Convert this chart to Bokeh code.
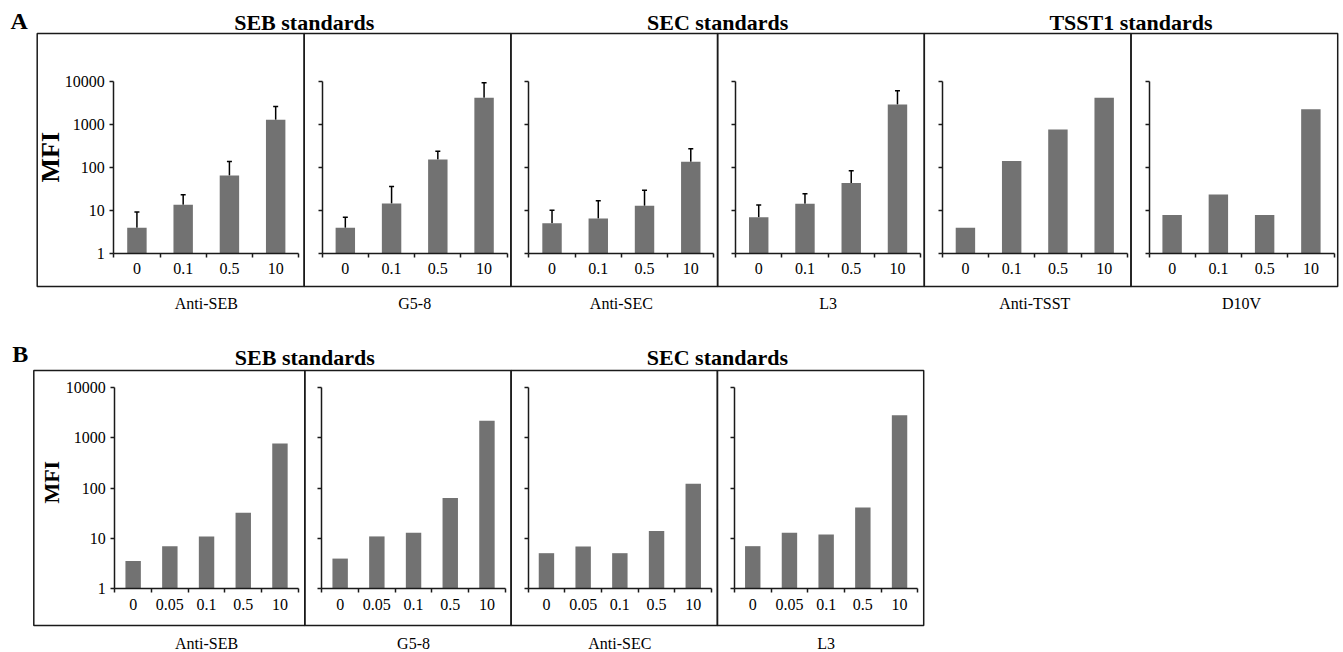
import math
from bokeh.plotting import figure
from bokeh.models import (Range1d, LogAxis, LinearAxis, FixedTicker, BoxAnnotation, Label,
                          Whisker, TeeHead, ColumnDataSource)
from bokeh.layouts import column
from bokeh.embed import file_html
from bokeh.resources import INLINE

# ---------------- data ----------------
A_doses = ["0", "0.1", "0.5", "10"]
B_doses = ["0", "0.05", "0.1", "0.5", "10"]
A_titles = ["SEB standards", "SEC standards", "TSST1 standards"]
B_titles = ["SEB standards", "SEC standards"]
A_panels = ["Anti-SEB", "G5-8", "Anti-SEC", "L3", "Anti-TSST", "D10V"]
B_panels = ["Anti-SEB", "G5-8", "Anti-SEC", "L3"]
y_ticks = [1, 10, 100, 1000, 10000]

A_anti_seb = [4.0, 13.7, 66, 1290]
A_anti_seb_up = [9.3, 23.4, 139, 2630]
A_g58 = [4.0, 14.7, 155, 4180]
A_g58_up = [7.1, 36.5, 241, 9300]
A_anti_sec = [5.1, 6.6, 13.0, 137]
A_anti_sec_up = [10.3, 17.0, 30.0, 273]
A_l3 = [7.1, 14.5, 44, 2930]
A_l3_up = [13.5, 24.7, 85, 6070]
A_anti_tsst = [4.0, 142, 770, 4180]
A_d10v = [8.0, 23.8, 8.0, 2280]

B_anti_seb = [3.5, 6.9, 10.8, 32, 770]
B_g58 = [3.9, 10.8, 12.8, 63, 2210]
B_anti_sec = [5.0, 6.8, 5.0, 13.8, 122]
B_l3 = [6.9, 12.8, 11.8, 41, 2820]

A_values = [A_anti_seb, A_g58, A_anti_sec, A_l3, A_anti_tsst, A_d10v]
A_upper = [A_anti_seb_up, A_g58_up, A_anti_sec_up, A_l3_up, None, None]
B_values = [B_anti_seb, B_g58, B_anti_sec, B_l3]
B_upper = [None, None, None, None]

# ---------------- style ----------------
SERIF = "Liberation Serif"
INK = "#1a1a1a"
BAR = "#727272"
W = 1343


def build_row(g, doses, panels, values, uppers, titles, letter):
    cat, top, h, y1, dec = g["cat"], g["top"], g["h"], g["y1"], g["dec"]

    def yval(page_y):  # data value shown at a page row
        return 10 ** ((y1 - page_y) / dec)

    def sy(page_y):  # screen offset from canvas bottom
        return top + h - page_y

    p = figure(width=W, height=h,
               x_range=Range1d(0, W / cat),
               y_range=Range1d(yval(top + h), yval(top)),
               y_axis_type="log", x_axis_location=None, y_axis_location=None,
               toolbar_location=None, output_backend="svg",
               min_border_left=0, min_border_right=0, min_border_top=0, min_border_bottom=0)
    p.outline_line_color = None
    p.background_fill_color = "white"
    p.border_fill_color = "white"
    p.grid.grid_line_color = None

    n = len(doses)
    npan = len(panels)
    dividers = [g["div0"] + k * g["pitch"] for k in range(npan - 1)]
    edges = [g["box_l"]] + dividers + [g["div0"] + (npan - 1) * g["pitch"]]
    starts = [g["ax0"]] + [d + g["gap"] for d in dividers]

    for k in range(npan):
        p.add_layout(BoxAnnotation(left=edges[k] / cat, right=edges[k + 1] / cat,
                                   top=yval(g["box_t"]), bottom=yval(g["box_b"]),
                                   fill_color=None, fill_alpha=0,
                                   line_color=INK, line_alpha=1.0, line_width=1.5))

    for k, name in enumerate(panels):
        x0 = starts[k] / cat
        centers = [x0 + j + 0.5 for j in range(n)]
        vals = values[k]
        p.vbar(x=centers, top=vals, bottom=1, width=0.42,
               fill_color=BAR, line_color=None)
        if uppers[k] is not None:
            src = ColumnDataSource(dict(base=centers, lower=vals, upper=uppers[k]))
            p.add_layout(Whisker(source=src, base="base", lower="lower", upper="upper",
                                 dimension="height", line_color="black", line_width=1.5,
                                 upper_head=TeeHead(size=5, line_color="black", line_width=1.5),
                                 lower_head=None))

        ya = LogAxis(fixed_location=x0, bounds=(1, 10000),
                     ticker=FixedTicker(ticks=y_ticks),
                     major_tick_out=4, major_tick_in=0,
                     minor_tick_line_color=None,
                     axis_line_color=INK, axis_line_width=1.5,
                     major_tick_line_color=INK, major_tick_line_width=1.5,
                     major_label_text_font=SERIF, major_label_text_font_size="16px",
                     major_label_text_color="black",
                     major_label_standoff=5,
                     major_label_overrides={t: (str(t) if k == 0 else "") for t in y_ticks})
        p.add_layout(ya, "left")

        tick_pos = [x0 + j for j in range(n + 1)]
        xa = LinearAxis(fixed_location=1, bounds=(x0, x0 + n),
                        ticker=FixedTicker(ticks=tick_pos),
                        major_tick_out=4, major_tick_in=0,
                        minor_tick_line_color=None,
                        axis_line_color=INK, axis_line_width=1.5,
                        major_tick_line_color=INK, major_tick_line_width=1.5,
                        major_label_overrides={t: "" for t in tick_pos})
        p.add_layout(xa, "below")

        la = LinearAxis(fixed_location=1, bounds=(x0, x0 + n),
                        ticker=FixedTicker(ticks=centers),
                        major_tick_out=0, major_tick_in=0,
                        minor_tick_line_color=None, axis_line_color=None,
                        major_tick_line_color=None,
                        major_label_text_font=SERIF, major_label_text_font_size="16px",
                        major_label_text_color="black",
                        major_label_standoff=g["xstand"],
                        major_label_overrides={c: d for c, d in zip(centers, doses)})
        p.add_layout(la, "below")

        p.add_layout(Label(x=x0 + n / 2, x_units="data", y=sy(g["name_y"]), y_units="screen",
                           text=name, text_align="center", text_baseline="middle",
                           text_font=SERIF, text_font_size="16px", text_color="black"))

    for t, title in enumerate(titles):
        p.add_layout(Label(x=dividers[2 * t] / cat, x_units="data",
                           y=sy(g["title_y"]), y_units="screen",
                           text=title, text_align="center", text_baseline="middle",
                           text_font=SERIF, text_font_style="bold", text_font_size="22px",
                           text_color="black"))

    p.add_layout(Label(x=g["letter_x"], x_units="screen", y=sy(g["letter_y"]), y_units="screen",
                       text=letter, text_align="left", text_baseline="middle",
                       text_font=SERIF, text_font_style="bold", text_font_size="24px",
                       text_color="black"))
    p.add_layout(Label(x=g["mfi_x"], x_units="screen", y=sy(g["mfi_y"]), y_units="screen",
                       text="MFI", angle=math.pi / 2, text_align="center", text_baseline="middle",
                       text_font=SERIF, text_font_style="bold", text_font_size=g["mfi_size"],
                       text_color="black"))
    return p


# layout geometry, in page pixels
gA = dict(top=0, h=330, y1=253.3, dec=43.08, cat=46.25,
          box_l=36.7, box_t=33, box_b=286, div0=303.7, pitch=206.7,
          ax0=113.3, gap=18, xstand=9,
          name_y=303, title_y=21.7, letter_x=10, letter_y=20,
          mfi_x=50, mfi_y=156.7, mfi_size="26px")
gB = dict(top=330, h=322, y1=587.7, dec=50.1, cat=36.7,
          box_l=33.3, box_t=370, box_b=625, div0=304.3, pitch=206.3,
          ax0=114.3, gap=17, xstand=11,
          name_y=642.5, title_y=356.7, letter_x=11.7, letter_y=353.5,
          mfi_x=50.7, mfi_y=481.7, mfi_size="22px")

pA = build_row(gA, A_doses, A_panels, A_values, A_upper, A_titles, "A")
pB = build_row(gB, B_doses, B_panels, B_values, B_upper, B_titles, "B")

layout = column(pA, pB)
open("out.html", "w").write(file_html(layout, INLINE))
